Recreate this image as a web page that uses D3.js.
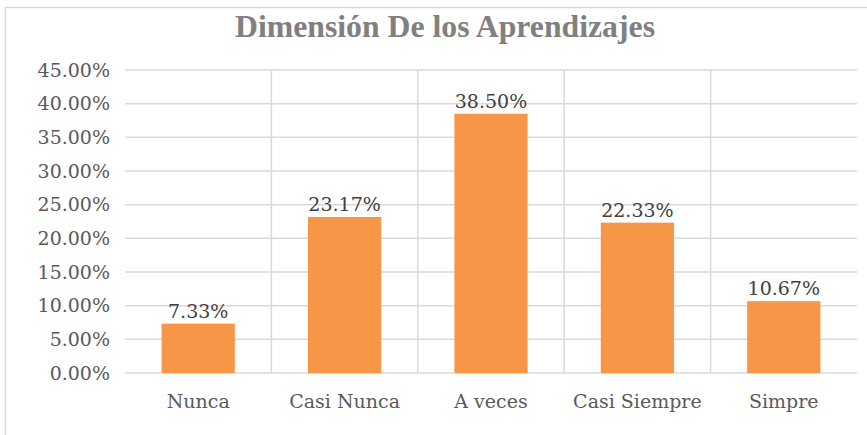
<!DOCTYPE html>
<html>
<head>
<meta charset="utf-8">
<script src="https://cdn.jsdelivr.net/npm/d3@7"></script>
<style>
html,body{margin:0;padding:0;background:#fff;}
svg{display:block;}
</style>
</head>
<body>
<script>
const categories = ["Nunca", "Casi Nunca", "A veces", "Casi Siempre", "Simpre"];
const values = [0.0733, 0.2317, 0.3850, 0.2233, 0.1067];
const valueLabels = ["7.33%", "23.17%", "38.50%", "22.33%", "10.67%"];
const yTicks = [0, 0.05, 0.10, 0.15, 0.20, 0.25, 0.30, 0.35, 0.40, 0.45];
const chartTitle = "Dimensión De los Aprendizajes";

(function () {
const W = 867, H = 435;
const pLeft = 125, pRight = 857, pTop = 70, pBottom = 373;

const svg = d3.select("body").append("svg").attr("width", W).attr("height", H);

// outer chart border (partially visible)
svg.append("path").attr("d", `M5.5,${H} L5.5,7.5 L${W},7.5`)
  .attr("fill", "none").attr("stroke", "#d9d9d9").attr("stroke-width", 1.5);

const x = d3.scaleBand().domain(categories).range([pLeft, pRight]).paddingInner(0.5).paddingOuter(0.25);
const y = d3.scaleLinear().domain([0, 0.45]).range([pBottom, pTop]);
const step = x.step();

// horizontal gridlines
svg.append("g").selectAll("line").data(yTicks).join("line")
  .attr("x1", pLeft).attr("x2", pRight)
  .attr("y1", d => y(d)).attr("y2", d => y(d))
  .attr("stroke", "#d9d9d9").attr("stroke-width", 1.5);

// vertical category separators
svg.append("g").selectAll("line").data(categories.slice(1)).join("line")
  .attr("x1", d => x(d) + x.bandwidth() / 2 - step / 2)
  .attr("x2", d => x(d) + x.bandwidth() / 2 - step / 2)
  .attr("y1", y(0.45)).attr("y2", y(0))
  .attr("stroke", "#d9d9d9").attr("stroke-width", 1.5);

// y axis
const yAxis = svg.append("g").attr("transform", `translate(${pLeft},0)`)
  .call(d3.axisLeft(y).tickValues(yTicks).tickFormat(d3.format(".2%")).tickSize(0).tickPadding(15));
yAxis.select(".domain").remove();
yAxis.selectAll("text").attr("font-family", "DejaVu Serif").attr("font-size", 19).attr("fill", "#595959");

// bars
svg.append("g").selectAll("rect").data(categories).join("rect")
  .attr("x", d => x(d)).attr("width", x.bandwidth())
  .attr("y", (d, i) => y(values[i])).attr("height", (d, i) => y(0) - y(values[i]))
  .attr("fill", "#F79646");

// data labels
svg.append("g").selectAll("text").data(categories).join("text")
  .attr("x", d => x(d) + x.bandwidth() / 2)
  .attr("y", (d, i) => y(values[i]) - 6)
  .attr("text-anchor", "middle")
  .attr("font-family", "DejaVu Serif").attr("font-size", 19).attr("fill", "#404040")
  .text((d, i) => valueLabels[i]);

// x axis labels
const xAxis = svg.append("g").attr("transform", `translate(0,${pBottom})`)
  .call(d3.axisBottom(x).tickSize(0).tickPadding(22));
xAxis.select(".domain").remove();
xAxis.selectAll("text").attr("font-family", "DejaVu Serif").attr("font-size", 19).attr("fill", "#595959");

// title
svg.append("text").attr("x", 445).attr("y", 37).attr("text-anchor", "middle")
  .attr("font-family", "Liberation Serif").attr("font-weight", "bold").attr("font-size", 31)
  .attr("fill", "#808080").attr("textLength", 420).attr("lengthAdjust", "spacingAndGlyphs")
  .text(chartTitle);
})();
</script>
</body>
</html>
